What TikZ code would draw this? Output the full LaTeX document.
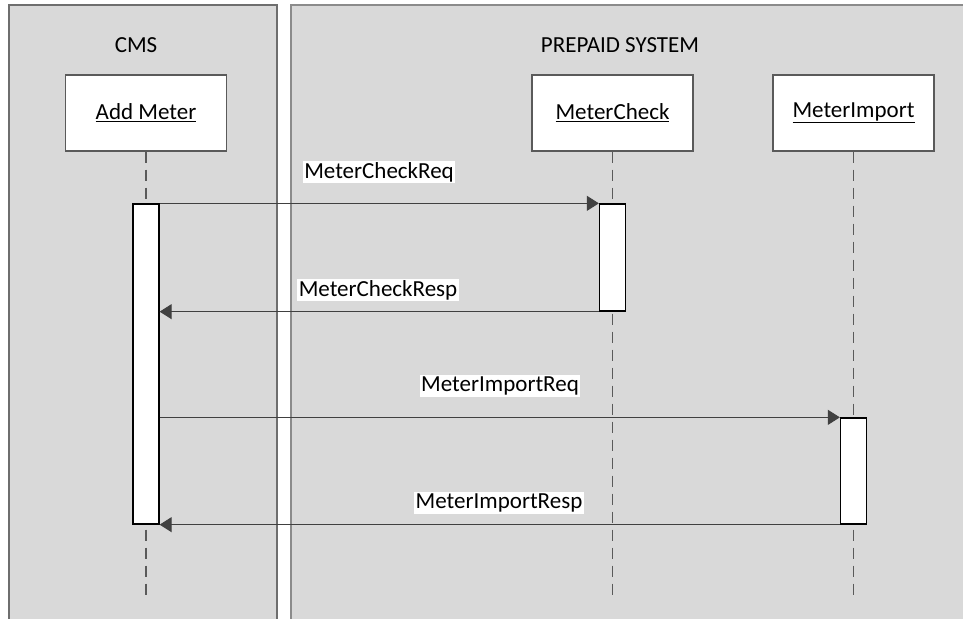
\documentclass[tikz,border=0pt]{standalone}
\usepackage{fontspec}
\setmainfont{Carlito}
\usetikzlibrary{arrows.meta}
\definecolor{panelbg}{HTML}{D9D9D9}
\definecolor{panelline}{HTML}{6E6E6E}
\definecolor{boxline}{HTML}{5A5A5A}
\definecolor{arrowc}{HTML}{404040}
\begin{document}
\begin{tikzpicture}[x=1pt,y=-1pt,
  every node/.style={font=\fontsize{23}{28}\selectfont},
  objbox/.style={draw=boxline,line width=1.1pt,fill=white,minimum width=161pt,minimum height=76pt,inner sep=0pt},
  actbar/.style={draw=black,line width=1.3pt,fill=white,minimum width=26pt,inner sep=0pt},
  lifeline/.style={draw=boxline,line width=1.3pt,dash pattern=on 11pt off 7pt},
  msg/.style={draw=arrowc,line width=1pt,-{Triangle[length=12pt,width=15pt]}},
  msglabel/.style={fill=white,inner sep=1.5pt,text=black},
  paneltitle/.style={text=black}]
\useasboundingbox (0,0) rectangle (963,618);
% panels
\fill[panelbg] (9,5) rectangle (277,625);
\fill[panelbg] (291,5) rectangle (970,625);
\draw[panelline,line width=1.2pt] (9,625) -- (9,5) -- (277,5) -- (277,625);
\draw[panelline!80,line width=1.2pt] (291,625) -- (291,5) -- (970,5);
% titles
\node[paneltitle] (cms) at (136,45) {CMS};
\node[paneltitle] (pps) at (620,45) {PREPAID SYSTEM};
% object boxes
\node[objbox] (add) at (146,113) {\underline{Add Meter}};
\node[objbox] (chk) at (612.5,113) {\underline{MeterCheck}};
\node[objbox] (imp) at (853.5,113) {\underline{MeterImport}};
% lifeline ends
\coordinate (addend) at (146,596);
\coordinate (chkend) at (612.5,596);
\coordinate (impend) at (853.5,596);
\draw[lifeline] (add.south) -- (addend);
\draw[lifeline] (chk.south) -- (chkend);
\draw[lifeline] (imp.south) -- (impend);
% activation bars
\node[actbar,minimum height=320pt] (actA) at (146,364) {};
\node[actbar,minimum height=107pt] (actC) at (612.5,257.5) {};
\node[actbar,minimum height=106pt] (actI) at (853.5,471) {};
% messages
\draw[msg] (actA.north east) -- (actC.north west);
\draw[msg] (actC.south west) -- (actA.east |- actC.south west);
\draw[msg] (actA.east |- actI.north west) -- (actI.north west);
\draw[msg] (actI.south west) -- (actA.south east);
% labels
\node[msglabel] (l1) at (379,172) {MeterCheckReq};
\node[msglabel] (l2) at (378,290) {MeterCheckResp};
\node[msglabel] (l3) at (500,386) {MeterImportReq};
\node[msglabel] (l4) at (499,503) {MeterImportResp};
\end{tikzpicture}
\end{document}
